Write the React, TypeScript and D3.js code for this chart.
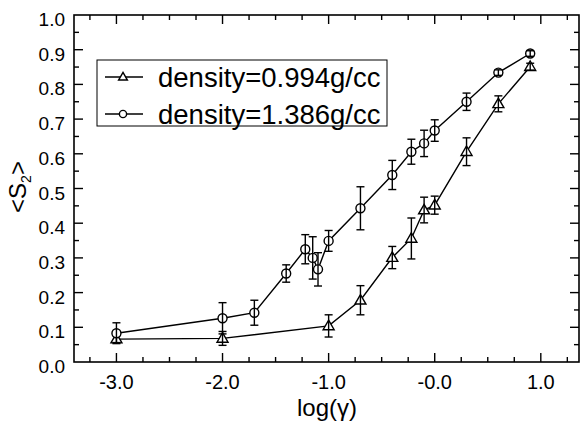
import React, { useRef, useEffect } from 'react';
import * as d3 from 'd3';

// log(gamma) positions and <S2> values
const lowLogG = [-3.0, -2.0, -1.0, -0.7, -0.4, -0.22, -0.1, 0.0, 0.3, 0.6, 0.9];
const lowS2 = [0.066, 0.068, 0.104, 0.178, 0.301, 0.356, 0.438, 0.452, 0.606, 0.744, 0.851];
const lowErr = [0.01, 0.02, 0.032, 0.042, 0.032, 0.059, 0.037, 0.026, 0.04, 0.023, 0.01];

const highLogG = [-3.0, -2.0, -1.7, -1.4, -1.22, -1.15, -1.1, -1.0, -0.7, -0.4, -0.22, -0.1, 0.0, 0.3, 0.6, 0.9];
const highS2 = [0.083, 0.126, 0.142, 0.255, 0.325, 0.30, 0.267, 0.349, 0.443, 0.539, 0.606, 0.630, 0.667, 0.750, 0.834, 0.889];
const highErr = [0.03, 0.045, 0.036, 0.025, 0.042, 0.061, 0.048, 0.03, 0.062, 0.042, 0.036, 0.038, 0.031, 0.025, 0.008, 0.008];

const xTickValues = [-3, -2, -1, 0, 1];
const xTickLabels = ['-3.0', '-2.0', '-1.0', '-0.0', '1.0'];
const yTickValues = [0, 0.1, 0.2, 0.3, 0.4, 0.5, 0.6, 0.7, 0.8, 0.9, 1.0];

const legendLabels = ['density=0.994g/cc', 'density=1.386g/cc'];

const W = 580;
const H = 423;
const FONT = '"Liberation Sans", Arial, Helvetica, sans-serif';

const App = () => {
  const ref = useRef<SVGSVGElement>(null);

  useEffect(() => {
    const svg = d3.select(ref.current);
    svg.selectAll('*').remove();

    const left = 74, right = 579, top = 15, bottom = 362;
    const x = d3.scaleLinear().domain([-3.4, 1.36]).range([left, right]);
    const y = d3.scaleLinear().domain([0, 1]).range([bottom, top]);

    const g = svg.append('g');

    // frame
    g.append('rect')
      .attr('x', left).attr('y', top)
      .attr('width', right - left).attr('height', bottom - top)
      .attr('fill', 'none').attr('stroke', '#000').attr('stroke-width', 1.6);

    // ticks, inward on all four sides
    const xMinor = d3.range(-3.25, 1.3, 0.25);
    xMinor.forEach(v => {
      const major = Math.abs(v - Math.round(v)) < 1e-6;
      const len = major ? 9 : 5;
      const px = x(v);
      g.append('line').attr('x1', px).attr('x2', px).attr('y1', bottom).attr('y2', bottom - len)
        .attr('stroke', '#000').attr('stroke-width', 1.4);
      g.append('line').attr('x1', px).attr('x2', px).attr('y1', top).attr('y2', top + len)
        .attr('stroke', '#000').attr('stroke-width', 1.4);
    });
    const yMinor = d3.range(0.05, 1.0, 0.05);
    yMinor.forEach(v => {
      const major = Math.abs(v * 10 - Math.round(v * 10)) < 1e-6;
      const len = major ? 9 : 5;
      const py = y(v);
      g.append('line').attr('x1', left).attr('x2', left + len).attr('y1', py).attr('y2', py)
        .attr('stroke', '#000').attr('stroke-width', 1.4);
      g.append('line').attr('x1', right).attr('x2', right - len).attr('y1', py).attr('y2', py)
        .attr('stroke', '#000').attr('stroke-width', 1.4);
    });

    // tick labels
    g.selectAll('.xl').data(xTickValues).enter().append('text')
      .attr('x', d => x(d)).attr('y', 389)
      .attr('text-anchor', 'middle')
      .attr('font-family', FONT).attr('font-size', 20)
      .text((d, i) => xTickLabels[i]);

    g.selectAll('.yl').data(yTickValues).enter().append('text')
      .attr('x', 65).attr('y', d => y(d) + 11)
      .attr('text-anchor', 'end')
      .attr('font-family', FONT).attr('font-size', 19)
      .text(d => d.toFixed(1));

    // axis titles
    g.append('text')
      .attr('x', 327).attr('y', 416)
      .attr('text-anchor', 'middle')
      .attr('font-family', FONT).attr('font-size', 24)
      .text('log(γ)');

    const yt = g.append('text')
      .attr('transform', 'translate(26,187) rotate(-90)')
      .attr('text-anchor', 'middle')
      .attr('font-family', FONT).attr('font-size', 24);
    yt.append('tspan').text('<S');
    yt.append('tspan').attr('font-size', 14).attr('dy', 5).text('2');
    yt.append('tspan').attr('dy', -5).text('>');

    const line = d3.line<number>();

    const drawMarker = (px: number, py: number, marker: 'tri' | 'circ', s: number) => {
      if (marker === 'circ') {
        g.append('circle').attr('cx', px).attr('cy', py).attr('r', 4.5 * s)
          .attr('fill', '#fff').attr('stroke', '#000').attr('stroke-width', 1.4);
      } else {
        const h = 9.5 * s, w = 11 * s;
        g.append('path')
          .attr('d', `M${px},${py - h * 0.6}L${px + w / 2},${py + h * 0.4}L${px - w / 2},${py + h * 0.4}Z`)
          .attr('fill', '#fff').attr('stroke', '#000').attr('stroke-width', 1.4);
      }
    };

    const drawSeries = (xs: number[], ys: number[], es: number[], marker: 'tri' | 'circ') => {
      const pts = xs.map((v, i) => [x(v), y(ys[i])] as [number, number]);
      g.append('path').attr('d', line(pts))
        .attr('fill', 'none').attr('stroke', '#000').attr('stroke-width', 1.4);
      pts.forEach(([px, py]) => drawMarker(px, py, marker, 1));
      xs.forEach((v, i) => {
        const px = x(v);
        const y1 = y(ys[i] + es[i]);
        const y2 = y(ys[i] - es[i]);
        g.append('line').attr('x1', px).attr('x2', px).attr('y1', y1).attr('y2', y2)
          .attr('stroke', '#000').attr('stroke-width', 1.4);
        [y1, y2].forEach(yy => {
          g.append('line').attr('x1', px - 4).attr('x2', px + 4).attr('y1', yy).attr('y2', yy)
            .attr('stroke', '#000').attr('stroke-width', 1.4);
        });
      });
    };

    drawSeries(lowLogG, lowS2, lowErr, 'tri');
    drawSeries(highLogG, highS2, highErr, 'circ');

    // legend
    g.append('rect')
      .attr('x', 97).attr('y', 60).attr('width', 290).attr('height', 66)
      .attr('fill', '#fff').attr('stroke', '#000').attr('stroke-width', 1);
    legendLabels.forEach((lbl, i) => {
      const ly = 77 + i * 37;
      g.append('line').attr('x1', 105).attr('x2', 143).attr('y1', ly).attr('y2', ly)
        .attr('stroke', '#000').attr('stroke-width', 1.4);
      drawMarker(123, ly, i === 0 ? 'tri' : 'circ', 0.8);
      g.append('text')
        .attr('x', 158).attr('y', ly + 10)
        .attr('font-family', FONT).attr('font-size', 27.5)
        .text(lbl);
    });
  }, []);

  return (
    <svg
      ref={ref}
      width={W}
      height={H}
      style={{ position: 'absolute', left: 0, top: 0, background: '#fff', display: 'block' }}
    />
  );
};

export default App;
